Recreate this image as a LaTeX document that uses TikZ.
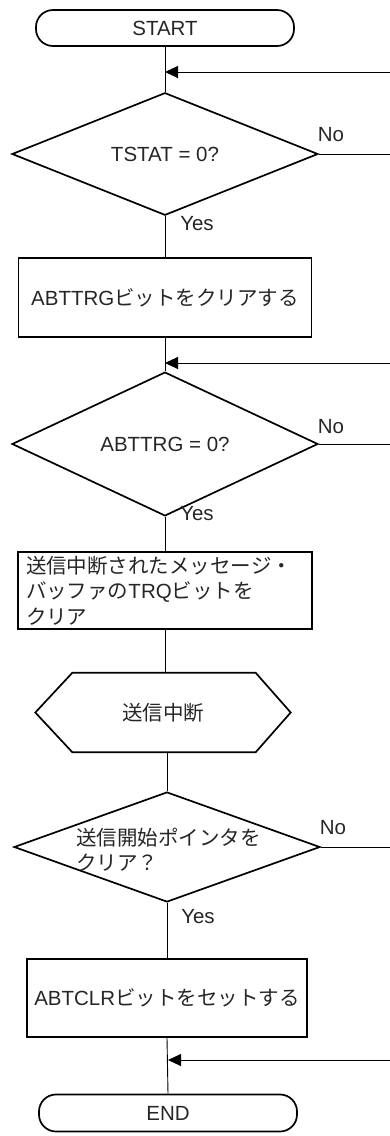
\documentclass[tikz,border=0pt]{standalone}
\usepackage{fontspec}
\setmainfont{Liberation Sans}
\newfontfamily\jp{Noto Sans CJK JP}
\usetikzlibrary{shapes.geometric,arrows.meta,calc}
\begin{document}
\begin{tikzpicture}[x=1pt,y=-1pt,
  every node/.style={font=\fontsize{20.5}{25.5}\selectfont,text=black!85},
  term/.style={draw,line width=1.7pt,rounded corners=17pt,minimum width=258pt,minimum height=36pt,inner sep=0pt},
  dec/.style={draw,diamond,line width=1.7pt,minimum width=306pt,minimum height=112pt,inner sep=0pt},
  proc/.style={draw,line width=1.7pt,minimum width=293pt,minimum height=79pt,inner sep=0pt},
  flow/.style={line width=0.9pt},
  retarrow/.style={flow,-{Triangle[length=13pt,width=12pt]}},
  lbl/.style={inner sep=0pt}
]
\useasboundingbox (0,0) rectangle (390,1136);

% nodes
\node[term] (start) at (165,28) {START};
\node[dec] (d1) at (165,154) {TSTAT = 0?};
\node[proc] (b1) at (165,297.5) {ABTTRG{\jp ビットをクリアする}};
\node[dec] (d2) at (165,444) {ABTTRG = 0?};
\node[proc,minimum width=294pt,minimum height=77pt,text width=278pt,align=left] (b2) at (165,590.5)
  {{\jp 送信中断されたメッセージ・}\\{\jp バッファの}TRQ{\jp ビットを}\\{\jp クリア}};
\node[minimum width=255pt,minimum height=79pt,inner sep=0pt] (hex) at (163,712.5) {\jp 送信中断};
\node[dec,minimum height=110pt] (d3) at (167,847)
  {\smash{\makebox[0pt]{\raisebox{-8pt}{\parbox[c]{182pt}{\raggedright\jp 送信開始ポインタを\\クリア？}}}}};
\node[proc,minimum width=280pt,minimum height=78pt] (b3) at (167,998) {ABTCLR{\jp ビットをセットする}};
\node[term,minimum height=37pt] (end) at (168,1113) {END};

% hexagon outline
\draw[line width=1.7pt] (hex.west) -- ($(hex.north west)+(37,0)$) -- ($(hex.north east)+(-35,0)$)
  -- (hex.east) -- ($(hex.south east)+(-35,0)$) -- ($(hex.south west)+(37,0)$) -- cycle;

% labels
\node[lbl] (no1) at (331,135) {No};
\node[lbl] (yes1) at (197,224) {Yes};
\node[lbl] (no2) at (331,427) {No};
\node[lbl] (yes2) at (197,514) {Yes};
\node[lbl] (no3) at (333,828) {No};
\node[lbl] (yes3) at (198,917) {Yes};

% junction coordinates
\coordinate (j1) at (165,72);
\coordinate (e1) at (390,72);
\coordinate (j2) at (165,363);
\coordinate (e2) at (390,363);
\coordinate (j3) at (168,1060);
\coordinate (e3) at (390,1060);
\coordinate (r1) at (390,154);
\coordinate (r2) at (390,444);
\coordinate (r3) at (390,847);

% main flow
\draw[flow] (start.south) -- (d1.north);
\draw[flow] (d1.south) -- (b1.north);
\draw[flow] (b1.south) -- (d2.north);
\draw[flow] (d2.south) -- (b2.north);
\draw[flow] (b2.south) -- (b2.south |- hex.north);
\draw[flow] (d3.north |- hex.south) -- (d3.north);
\draw[flow] (d3.south) -- (b3.north);
\draw[flow] (b3.south) -- (end.north);

% No branches and return arrows
\draw[flow] (d1.east) -- (r1);
\draw[flow] (d2.east) -- (r2);
\draw[flow] (d3.east) -- (r3);
\draw[retarrow] (e1) -- (j1);
\draw[retarrow] (e2) -- (j2);
\draw[retarrow] (e3) -- (j3);
\end{tikzpicture}
\end{document}
